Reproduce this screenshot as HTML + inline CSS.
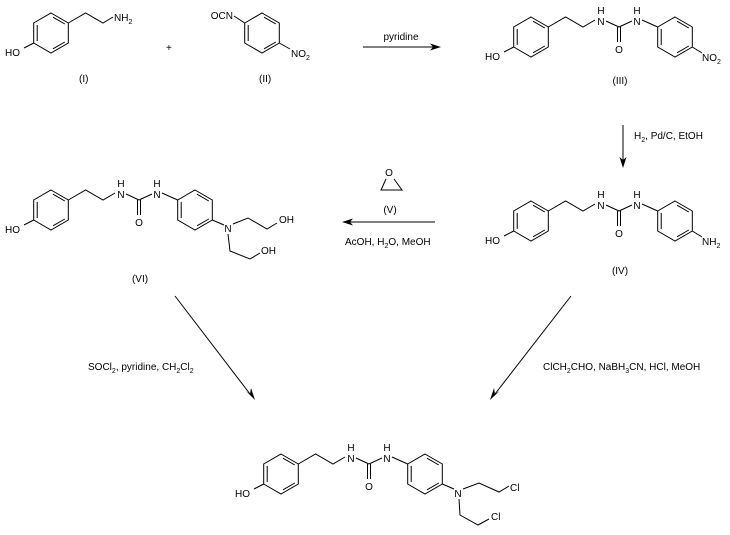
<!DOCTYPE html>
<html><head><meta charset="utf-8"><style>
html,body{margin:0;padding:0;background:#fff;}
svg{display:block;}
text{font-family:"Liberation Sans",Arial,sans-serif;font-size:10px;fill:#000;}
.s{font-size:7px;}
</style></head><body>
<svg width="730" height="535" viewBox="0 0 730 535" xmlns="http://www.w3.org/2000/svg">
<defs>
<g id="ring" fill="none" stroke="#000" stroke-width="1">
<polygon points="0,-20 17.3,-10 17.3,10 0,20 -17.3,10 -17.3,-10"/>
<line x1="-13.8" y1="-8" x2="-13.8" y2="8"/>
<line x1="2" y1="-15.8" x2="13.8" y2="-9"/>
<line x1="2" y1="15.8" x2="13.8" y2="9"/>
</g>
<g id="urea" fill="none" stroke="#000" stroke-width="1">
<use href="#ring"/>
<line x1="-17.3" y1="10" x2="-27" y2="15"/>
<polyline points="17.3,-10 34.6,-20 52,-10 64,-17"/>
<line x1="75" y1="-16" x2="88" y2="-10"/>
<line x1="86.5" y1="-10" x2="86.5" y2="5"/>
<line x1="89.5" y1="-10" x2="89.5" y2="5"/>
<line x1="88" y1="-10" x2="101" y2="-16"/>
<line x1="111" y1="-17" x2="126.7" y2="-10"/>
<use href="#ring" x="144"/>
</g>
</defs>

<!-- I -->
<g transform="translate(51,33)">
<use href="#ring"/>
<g fill="none" stroke="#000"><line x1="-17.3" y1="10" x2="-27" y2="15"/><polyline points="17.3,-10 34.6,-20 52,-10 62,-16"/></g>
<text x="-46" y="23">HO</text>
<text x="63" y="-12">NH<tspan class="s" dy="3">2</tspan></text>
</g>
<text x="166" y="51">+</text>
<text x="79" y="82">(I)</text>
<!-- II -->
<g transform="translate(262,33)">
<use href="#ring"/>
<g fill="none" stroke="#000"><line x1="-17.3" y1="-10" x2="-28" y2="-17"/><line x1="17.3" y1="10" x2="28" y2="16"/></g>
<text x="-29" y="-14" text-anchor="end">OCN</text>
<text x="29" y="24">NO<tspan class="s" dy="3">2</tspan></text>
</g>
<text x="259" y="82">(II)</text>
<!-- arrow pyridine -->
<line x1="363" y1="47" x2="434" y2="47" stroke="#000"/>
<polygon points="441,47 430,43.5 433,47 430,50.5" fill="#000"/>
<text x="401" y="40" text-anchor="middle">pyridine</text>

<!-- III -->
<g transform="translate(531,37)">
<use href="#urea"/>
<line x1="161.3" y1="10" x2="171" y2="16" stroke="#000"/>
<text x="-46" y="23">HO</text>
<text x="70" y="-12" text-anchor="middle">N</text><text x="70" y="-23" text-anchor="middle">H</text>
<text x="106" y="-12" text-anchor="middle">N</text><text x="106" y="-23" text-anchor="middle">H</text>
<text x="88" y="16" text-anchor="middle">O</text>
<text x="171" y="24">NO<tspan class="s" dy="3">2</tspan></text>
</g>
<text x="620" y="84" text-anchor="middle">(III)</text>

<!-- down arrow -->
<line x1="623" y1="125" x2="623" y2="160" stroke="#000"/>
<polygon points="623,168 619.5,157 623,160 626.5,157" fill="#000"/>
<text x="634" y="139">H<tspan class="s" dy="3">2</tspan><tspan dy="-3">, Pd/C, EtOH</tspan></text>

<!-- IV -->
<g transform="translate(531,221)">
<use href="#urea"/>
<line x1="161.3" y1="10" x2="171" y2="16" stroke="#000"/>
<text x="-46" y="23">HO</text>
<text x="70" y="-12" text-anchor="middle">N</text><text x="70" y="-23" text-anchor="middle">H</text>
<text x="106" y="-12" text-anchor="middle">N</text><text x="106" y="-23" text-anchor="middle">H</text>
<text x="88" y="16" text-anchor="middle">O</text>
<text x="171" y="24">NH<tspan class="s" dy="3">2</tspan></text>
</g>
<text x="620" y="274" text-anchor="middle">(IV)</text>

<!-- epoxide & left arrow -->
<text x="389" y="176" text-anchor="middle">O</text>
<g fill="none" stroke="#000"><polyline points="386,179 381,190 402,190 394,179"/></g>
<text x="390" y="213" text-anchor="middle">(V)</text>
<line x1="350" y1="222" x2="435" y2="222" stroke="#000"/>
<polygon points="342,222 353,218.5 350,222 353,225.5" fill="#000"/>
<text x="345" y="245">AcOH, H<tspan class="s" dy="3">2</tspan><tspan dy="-3">O, MeOH</tspan></text>

<!-- VI -->
<g transform="translate(51,210)">
<use href="#urea"/>
<g fill="none" stroke="#000">
<line x1="161.3" y1="10" x2="173" y2="15"/>
<polyline points="182,14 197,8 216,19 226,13"/>
<polyline points="177,24 179,41 199,49 209,43"/>
</g>
<text x="-46" y="23">HO</text>
<text x="70" y="-12" text-anchor="middle">N</text><text x="70" y="-23" text-anchor="middle">H</text>
<text x="106" y="-12" text-anchor="middle">N</text><text x="106" y="-23" text-anchor="middle">H</text>
<text x="88" y="16" text-anchor="middle">O</text>
<text x="177" y="22" text-anchor="middle">N</text>
<text x="228" y="13">OH</text>
<text x="210" y="44">OH</text>
</g>
<text x="140" y="282" text-anchor="middle">(VI)</text>

<!-- diagonal arrows -->
<line x1="175" y1="296" x2="250" y2="394" stroke="#000"/>
<polygon points="255,400 246,391 250,394 251,388" fill="#000"/>
<line x1="571" y1="296" x2="495" y2="394" stroke="#000"/>
<polygon points="490,400 494,388 495,394 499.5,391" fill="#000"/>
<text x="88" y="370">SOCl<tspan class="s" dy="3">2</tspan><tspan dy="-3">, pyridine, CH</tspan><tspan class="s" dy="3">2</tspan><tspan dy="-3">Cl</tspan><tspan class="s" dy="3">2</tspan></text>
<text x="543" y="370">ClCH<tspan class="s" dy="3">2</tspan><tspan dy="-3">CHO, NaBH</tspan><tspan class="s" dy="3">3</tspan><tspan dy="-3">CN, HCl, MeOH</tspan></text>

<!-- final -->
<g transform="translate(281,474)">
<use href="#urea"/>
<g fill="none" stroke="#000">
<line x1="161.3" y1="10" x2="173" y2="15"/>
<polyline points="182,15 198,9 218,18 228,12"/>
<polyline points="178,25 179,41 197,51 208,45"/>
</g>
<text x="-46" y="23">HO</text>
<text x="70" y="-12" text-anchor="middle">N</text><text x="70" y="-23" text-anchor="middle">H</text>
<text x="106" y="-12" text-anchor="middle">N</text><text x="106" y="-23" text-anchor="middle">H</text>
<text x="88" y="16" text-anchor="middle">O</text>
<text x="177" y="23" text-anchor="middle">N</text>
<text x="229" y="17">Cl</text>
<text x="210" y="46">Cl</text>
</g>
</svg>
</body></html>
